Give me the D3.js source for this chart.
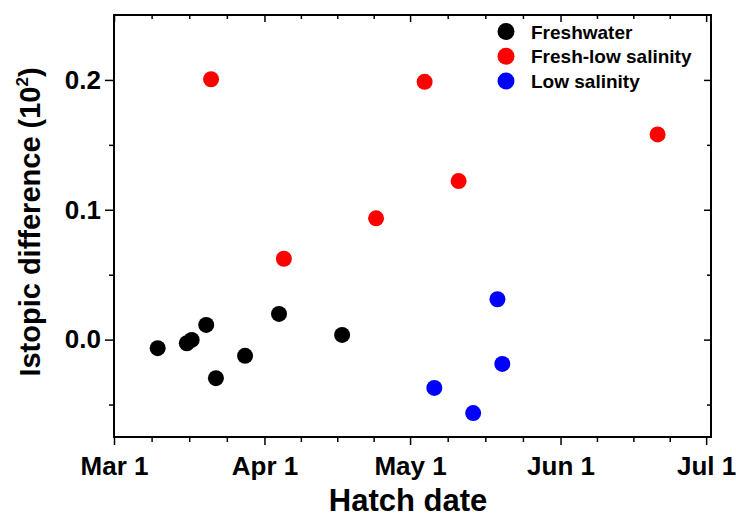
<!DOCTYPE html>
<html>
<head>
<meta charset="utf-8">
<script src="https://cdn.jsdelivr.net/npm/d3@7"></script>
<style>
  body { margin: 0; background: #fff; }
  svg text { font-family: "Liberation Sans", Arial, sans-serif; font-weight: bold; }
</style>
</head>
<body>
<div id="chart"></div>
<script>
// hatch dates and isotopic differences
const freshDates = ["2010-03-10", "2010-03-16", "2010-03-17", "2010-03-20", "2010-03-22", "2010-03-28", "2010-04-04", "2010-04-17"];
const freshValues = [-0.0066, -0.0028, -0.0002, 0.0113, -0.0297, -0.0125, 0.0198, 0.0036];

const mixDates = ["2010-03-21", "2010-04-05", "2010-04-24", "2010-05-04", "2010-05-11", "2010-06-21"];
const mixValues = [0.2005, 0.0623, 0.0934, 0.1985, 0.1221, 0.158];

const lowDates = ["2010-05-19", "2010-05-20", "2010-05-06", "2010-05-14"];
const lowValues = [0.0311, -0.0187, -0.0372, -0.0566];

const seriesNames = ["Freshwater", "Fresh-low salinity", "Low salinity"];
const seriesColors = ["#000000", "#ff0000", "#0000ff"];

const monthTicks = ["2010-03-01", "2010-04-01", "2010-05-01", "2010-06-01", "2010-07-01"];
const monthLabels = ["Mar 1", "Apr 1", "May 1", "Jun 1", "Jul 1"];
const yMajor = [0, 0.1, 0.2];
const yMinor = [-0.05, 0.05, 0.15];

const width = 736, height = 518;
const plotL = 114, plotR = 711, plotT = 15, plotB = 437;

const parse = d3.utcParse("%Y-%m-%d");

const svg = d3.select("#chart").append("svg")
    .attr("width", width)
    .attr("height", height);

const x = d3.scaleUtc()
    .domain([parse("2010-03-01"), parse("2010-07-02")])
    .range([plotL, plotR]);

const y = d3.scaleLinear()
    .domain([-0.075, 0.25])
    .range([plotB, plotT]);

// minor x ticks: three evenly spaced between month starts
const monthDates = monthTicks.map(parse);
const xMinor = [];
for (let i = 0; i < monthDates.length - 1; i++) {
    const a = +monthDates[i], b = +monthDates[i + 1];
    for (let k = 1; k < 4; k++) xMinor.push(new Date(a + (b - a) * k / 4));
}

// bottom axis (outward ticks) and top mirror (inward)
svg.append("g")
    .attr("transform", `translate(0,${plotB})`)
    .call(d3.axisBottom(x).tickValues(monthDates).tickSize(8).tickFormat((d, i) => monthLabels[i]))
    .call(g => g.selectAll("text").attr("font-size", 26).attr("dy", "1.05em").attr("fill", "#000"));
svg.append("g")
    .attr("transform", `translate(0,${plotB})`)
    .call(d3.axisBottom(x).tickValues(xMinor).tickSize(5).tickFormat(""));
svg.append("g")
    .attr("transform", `translate(0,${plotT})`)
    .call(d3.axisBottom(x).tickValues(monthDates).tickSize(7).tickFormat(""));
svg.append("g")
    .attr("transform", `translate(0,${plotT})`)
    .call(d3.axisBottom(x).tickValues(xMinor).tickSize(4).tickFormat(""));

// left axis and right mirror
svg.append("g")
    .attr("transform", `translate(${plotL},0)`)
    .call(d3.axisLeft(y).tickValues(yMajor).tickSize(9).tickPadding(4).tickFormat(d3.format(".1f")))
    .call(g => g.selectAll("text").attr("font-size", 26).attr("fill", "#000"));
svg.append("g")
    .attr("transform", `translate(${plotL},0)`)
    .call(d3.axisLeft(y).tickValues(yMinor).tickSize(5).tickFormat(""));
svg.append("g")
    .attr("transform", `translate(${plotR},0)`)
    .call(d3.axisLeft(y).tickValues(yMajor).tickSize(7).tickFormat(""));
svg.append("g")
    .attr("transform", `translate(${plotR},0)`)
    .call(d3.axisLeft(y).tickValues(yMinor).tickSize(4).tickFormat(""));

svg.selectAll(".domain").remove();
svg.selectAll(".tick line").attr("stroke", "#000").attr("stroke-width", 1.5);

// frame
svg.append("rect")
    .attr("x", plotL).attr("y", plotT)
    .attr("width", plotR - plotL).attr("height", plotB - plotT)
    .attr("fill", "none").attr("stroke", "#000").attr("stroke-width", 2);

// points
const groups = [
    { dates: freshDates, values: freshValues },
    { dates: mixDates, values: mixValues },
    { dates: lowDates, values: lowValues }
];
groups.forEach((s, si) => {
    svg.append("g").selectAll("circle")
        .data(s.dates.map((d, i) => ({ date: parse(d), value: s.values[i] })))
        .enter()
        .append("circle")
        .attr("cx", d => x(d.date))
        .attr("cy", d => y(d.value))
        .attr("r", 8)
        .attr("fill", seriesColors[si]);
});

// legend
const legend = svg.append("g").attr("transform", "translate(506,31.5)");
seriesNames.forEach((name, i) => {
    const row = legend.append("g").attr("transform", `translate(0,${i * 24.75})`);
    row.append("circle").attr("r", 8.5).attr("fill", seriesColors[i]);
    row.append("text").attr("x", 25).attr("y", 7).attr("font-size", 19).text(name);
});

// axis titles
svg.append("text")
    .attr("x", 408).attr("y", 511)
    .attr("text-anchor", "middle")
    .attr("font-size", 31)
    .text("Hatch date");

const yTitle = svg.append("text")
    .attr("transform", "translate(40,222) rotate(-90)")
    .attr("text-anchor", "middle")
    .attr("font-size", 29);
yTitle.append("tspan").text("Istopic difference (10");
yTitle.append("tspan").attr("font-size", 17).attr("dy", -12).text("2");
yTitle.append("tspan").attr("dy", 12).text(")");
</script>
</body>
</html>
